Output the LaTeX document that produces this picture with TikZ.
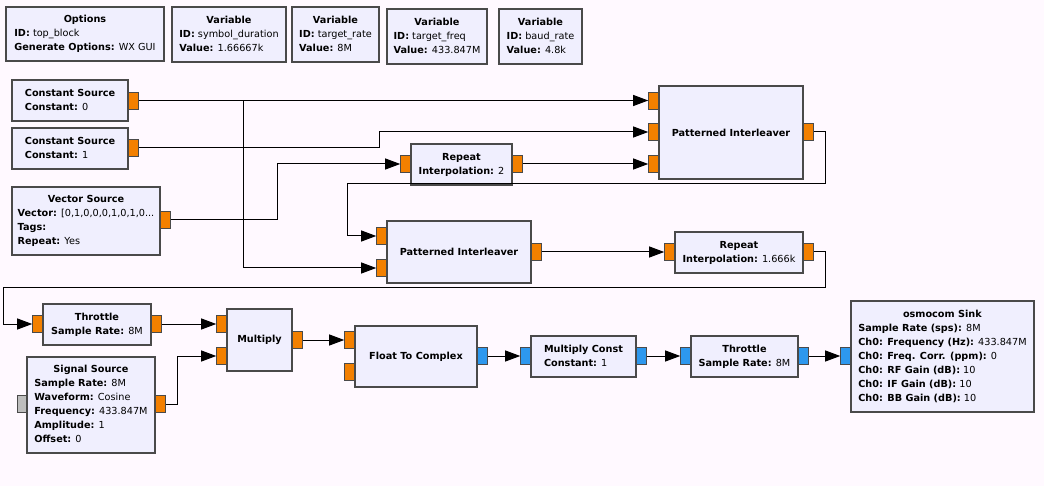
\documentclass[tikz,border=0pt]{standalone}
\usepackage{fontspec}
\setmainfont{DejaVu Sans}
\usetikzlibrary{arrows.meta}
\definecolor{bgcol}{HTML}{FFF9FF}
\definecolor{blockfill}{HTML}{F0EFFE}
\definecolor{blockline}{HTML}{4A4A4A}
\definecolor{fportcol}{HTML}{F38000}
\definecolor{cportcol}{HTML}{2D98EE}
\definecolor{mportcol}{HTML}{BDBDBD}
\newcommand\blkt[2]{\begin{tabular}{@{}l@{}}\multicolumn{1}{@{}c@{}}{\textbf{#1}}#2\end{tabular}}
\begin{document}
\begin{tikzpicture}[x=1pt,y=-1pt,
  blk/.style={draw=blockline, fill=blockfill, line width=1.2pt, inner sep=0pt,
    font=\fontsize{9.7}{14}\selectfont, text=black},
  port/.style={draw=blockline, line width=0.8pt, minimum width=10pt, minimum height=17pt, inner sep=0pt},
  fport/.style={port, fill=fportcol},
  cport/.style={port, fill=cportcol},
  mport/.style={port, fill=mportcol},
  conn/.style={draw=black, line width=1pt, -{Triangle[length=15pt,width=11pt]}}]
\useasboundingbox (0,0) rectangle (1044,486);
\fill[bgcol] (0,0) rectangle (1044,486);

% top row
\node[blk, minimum width=158pt, minimum height=54pt] (opt) at (85,34)
  {\blkt{Options}{\\\textbf{ID:} top\_block\\\textbf{Generate Options:} WX GUI}};
\node[blk, minimum width=114pt, minimum height=55pt] (v1) at (229,34.5)
  {\blkt{Variable}{\\\textbf{ID:} symbol\_duration\\\textbf{Value:} 1.66667k}};
\node[blk, minimum width=87pt, minimum height=55pt] (v2) at (335.5,34.5)
  {\blkt{Variable}{\\\textbf{ID:} target\_rate\\\textbf{Value:} 8M}};
\node[blk, minimum width=100pt, minimum height=55pt] (v3) at (437,36.5)
  {\blkt{Variable}{\\\textbf{ID:} target\_freq\\\textbf{Value:} 433.847M}};
\node[blk, minimum width=83pt, minimum height=55pt] (v4) at (540.5,36.5)
  {\blkt{Variable}{\\\textbf{ID:} baud\_rate\\\textbf{Value:} 4.8k}};

% sources
\node[blk, minimum width=116pt, minimum height=41pt] (cs0) at (70,100.5)
  {\blkt{Constant Source}{\\\textbf{Constant:} 0}};
\node[blk, minimum width=116pt, minimum height=41pt] (cs1) at (70,148.5)
  {\blkt{Constant Source}{\\\textbf{Constant:} 1}};
\node[blk, minimum width=148pt, minimum height=68pt] (vs) at (86,221)
  {\blkt{Vector Source}{\\\textbf{Vector:} [0,1,0,0,0,1,0,1,0...\\\textbf{Tags:}\\\textbf{Repeat:} Yes}};

% middle blocks
\node[blk, minimum width=144pt, minimum height=93pt] (pi1) at (731,132.5) {\textbf{Patterned Interleaver}};
\node[blk, minimum width=101pt, minimum height=41pt] (rp1) at (461.5,164.5)
  {\blkt{Repeat}{\\\textbf{Interpolation:} 2}};
\node[blk, minimum width=144pt, minimum height=62pt] (pi2) at (459,252) {\textbf{Patterned Interleaver}};
\node[blk, minimum width=128pt, minimum height=41pt] (rp2) at (739,252.5)
  {\blkt{Repeat}{\\\textbf{Interpolation:} 1.666k}};

% bottom row
\node[blk, minimum width=108pt, minimum height=41pt] (th1) at (97,324.5)
  {\blkt{Throttle}{\\\textbf{Sample Rate:} 8M}};
\node[blk, minimum width=65pt, minimum height=62pt] (mul) at (259.5,340) {\textbf{Multiply}};
\node[blk, minimum width=128pt, minimum height=96pt] (sig) at (91,405)
  {\blkt{Signal Source}{\\\textbf{Sample Rate:} 8M\\\textbf{Waveform:} Cosine\\\textbf{Frequency:} 433.847M\\\textbf{Amplitude:} 1\\\textbf{Offset:} 0}};
\node[blk, minimum width=122pt, minimum height=61pt] (ftc) at (416,356.5) {\textbf{Float To Complex}};
\node[blk, minimum width=105pt, minimum height=41pt] (mc) at (583.5,356.5)
  {\blkt{Multiply Const}{\\\textbf{Constant:} 1}};
\node[blk, minimum width=107pt, minimum height=41pt] (th2) at (744.5,356.5)
  {\blkt{Throttle}{\\\textbf{Sample Rate:} 8M}};
\node[blk, minimum width=183pt, minimum height=111pt] (osm) at (942.5,356.5)
  {\blkt{osmocom Sink}{\\\textbf{Sample Rate (sps):} 8M\\\textbf{Ch0: Frequency (Hz):} 433.847M\\\textbf{Ch0: Freq. Corr. (ppm):} 0\\\textbf{Ch0: RF Gain (dB):} 10\\\textbf{Ch0: IF Gain (dB):} 10\\\textbf{Ch0: BB Gain (dB):} 10}};

% ports
\node[fport, anchor=west] (cs0-o) at (128,100.5) {};
\node[fport, anchor=west] (cs1-o) at (128,148) {};
\node[fport, anchor=west] (vs-o) at (160,220) {};
\node[fport, anchor=east] (pi1-i1) at (659,100.5) {};
\node[fport, anchor=east] (pi1-i2) at (659,132) {};
\node[fport, anchor=east] (pi1-i3) at (659,164) {};
\node[fport, anchor=west] (pi1-o) at (803,132) {};
\node[fport, anchor=east] (rp1-i) at (411,164) {};
\node[fport, anchor=west] (rp1-o) at (512,164) {};
\node[fport, anchor=east] (pi2-i1) at (387,236) {};
\node[fport, anchor=east] (pi2-i2) at (387,268) {};
\node[fport, anchor=west] (pi2-o) at (531,252) {};
\node[fport, anchor=east] (rp2-i) at (675,252) {};
\node[fport, anchor=west] (rp2-o) at (803,252) {};
\node[fport, anchor=east] (th1-i) at (43,324) {};
\node[fport, anchor=west] (th1-o) at (151,324) {};
\node[fport, anchor=east] (mul-i1) at (227,324) {};
\node[fport, anchor=east] (mul-i2) at (227,356) {};
\node[fport, anchor=west] (mul-o) at (292,340) {};
\node[mport, anchor=east, minimum width=9pt] (sig-i) at (27,404) {};
\node[fport, anchor=west] (sig-o) at (155,404) {};
\node[fport, anchor=east] (ftc-i1) at (355,340) {};
\node[fport, anchor=east] (ftc-i2) at (355,372) {};
\node[cport, anchor=west] (ftc-o) at (477,356) {};
\node[cport, anchor=east] (mc-i) at (531,356) {};
\node[cport, anchor=west] (mc-o) at (636,356) {};
\node[cport, anchor=east] (th2-i) at (691,356) {};
\node[cport, anchor=west] (th2-o) at (798,356) {};
\node[cport, anchor=east] (osm-i) at (851,356) {};

% connections
\draw[conn] (cs0-o.east) -- (pi1-i1.west);
\draw[conn] (cs0-o.east) -- ++(105,0) |- (pi2-i2.west);
\draw[conn] (cs1-o.east) -- ++(241,0) |- (pi1-i2.west);
\draw[conn] (vs-o.east) -- ++(107,0) |- (rp1-i.west);
\draw[conn] (rp1-o.east) -- (pi1-i3.west);
\draw[conn] (pi1-o.east) -| (825,184) -| ([xshift=-29pt]pi2-i1.west) -- (pi2-i1.west);
\draw[conn] (pi2-o.east) -- (rp2-i.west);
\draw[conn] (rp2-o.east) -| (825,288) -| ([xshift=-29pt]th1-i.west) -- (th1-i.west);
\draw[conn] (th1-o.east) -- (mul-i1.west);
\draw[conn] (sig-o.east) -- ++(12,0) |- (mul-i2.west);
\draw[conn] (mul-o.east) -- (ftc-i1.west);
\draw[conn] (ftc-o.east) -- (mc-i.west);
\draw[conn] (mc-o.east) -- (th2-i.west);
\draw[conn] (th2-o.east) -- (osm-i.west);
\end{tikzpicture}
\end{document}
